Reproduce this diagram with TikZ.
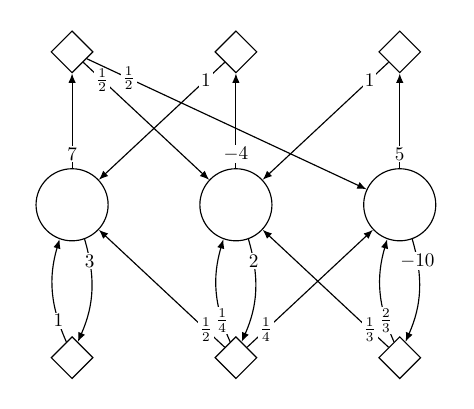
\documentclass[tikz,border=0pt]{standalone}
\usetikzlibrary{shapes.geometric, arrows.meta, positioning}

\begin{document}
\begin{tikzpicture}[
        var/.style={circle, draw=black, semithick, minimum size=1.32cm, inner sep=0pt},
        factor/.style={diamond, draw=black, semithick, minimum size=0.77cm, inner sep=0pt},
        arrow/.style={-{Latex[length=1.7mm, width=1.35mm]}, semithick},
        weight/.style={fill=white, inner sep=1pt, pos=0.15},
        cweight/.style={fill=white, inner sep=1pt, pos=0.2}
    ]
        \useasboundingbox (-1.32,-3.73) rectangle (7.36,3.75);

        \node[var] (x1) at (0,0) {};
        \node[var] (x2) at (3,0) {};
        \node[var] (x3) at (6,0) {};

        \node[factor] (t1) at (0,2.8) {};
        \node[factor] (t2) at (3,2.8) {};
        \node[factor] (t3) at (6,2.8) {};

        \node[factor] (b1) at (0,-2.8) {};
        \node[factor] (b2) at (3,-2.8) {};
        \node[factor] (b3) at (6,-2.8) {};

        % upper factors
        \draw[arrow] (x1) -- node[weight] {$7$} (t1);
        \draw[arrow] (x2) -- node[weight] {$-4$} (t2);
        \draw[arrow] (x3) -- node[weight] {$5$} (t3);
        \draw[arrow] (t1) -- node[weight] {$\frac{1}{2}$} (x2);
        \draw[arrow] (t1) -- node[weight] {$\frac{1}{2}$} (x3);
        \draw[arrow] (t2) -- node[weight] {$1$} (x1);
        \draw[arrow] (t3) -- node[weight] {$1$} (x2);

        % lower factors
        \draw[arrow] (x1) to[bend left=20] node[cweight] {$3$} (b1);
        \draw[arrow] (b1) to[bend left=20] node[cweight] {$1$} (x1);
        \draw[arrow] (x2) to[bend left=20] node[cweight] {$2$} (b2);
        \draw[arrow] (b2) to[bend left=20] node[cweight] {$\frac{1}{4}$} (x2);
        \draw[arrow] (x3) to[bend left=20] node[cweight] {$-10$} (b3);
        \draw[arrow] (b3) to[bend left=20] node[cweight] {$\frac{2}{3}$} (x3);
        \draw[arrow] (b2) -- node[weight] {$\frac{1}{2}$} (x1);
        \draw[arrow] (b2) -- node[weight] {$\frac{1}{4}$} (x3);
        \draw[arrow] (b3) -- node[weight] {$\frac{1}{3}$} (x2);
    \end{tikzpicture}
\end{document}
